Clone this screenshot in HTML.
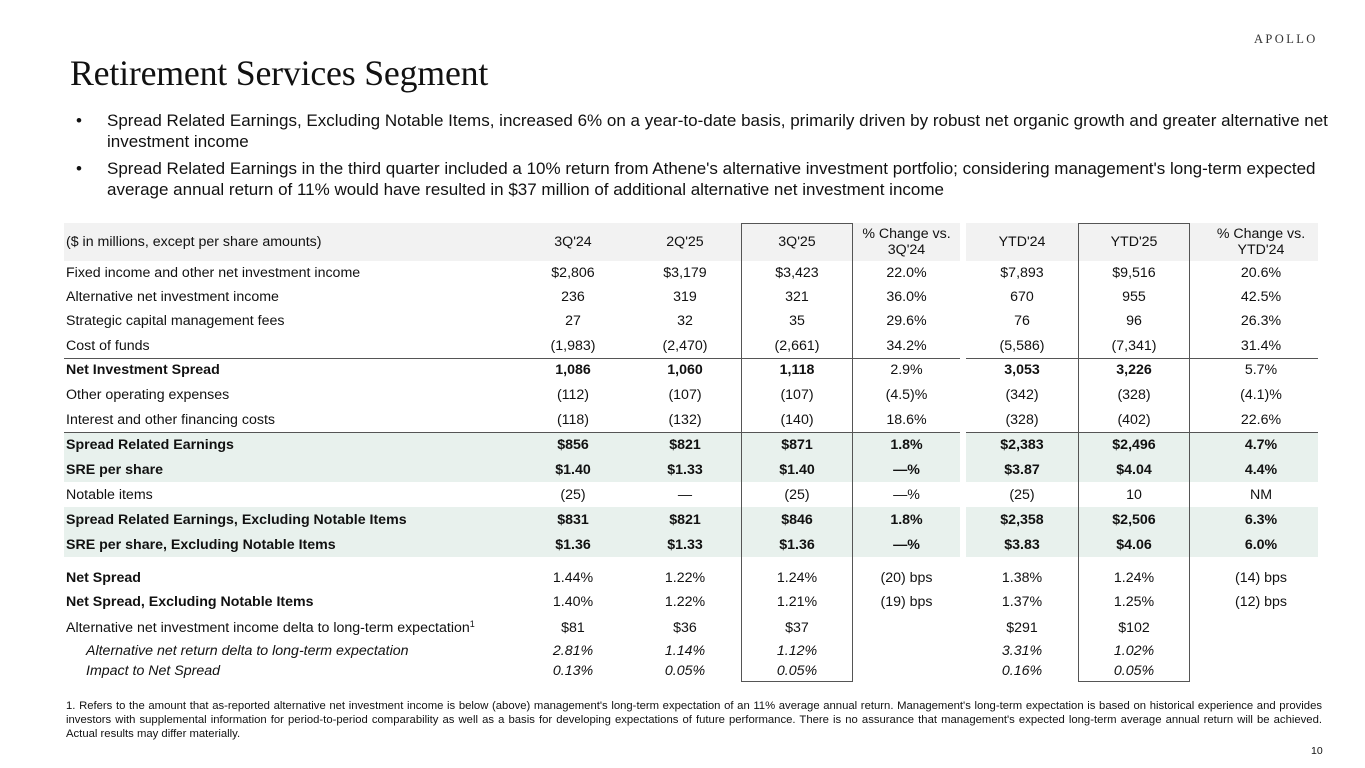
<!DOCTYPE html>
<html><head><meta charset="utf-8"><style>
*{margin:0;padding:0;box-sizing:border-box}
body{width:1365px;height:768px;background:#fff;position:relative;overflow:hidden;font-family:"Liberation Sans",Arial,sans-serif;color:#111}
.abs{position:absolute}
.title{left:70px;top:52px;font-family:"Liberation Serif",serif;font-size:35.8px;color:#111;letter-spacing:-0.2px}
.logo{left:1254px;top:32px;font-family:"Liberation Serif",serif;font-size:12.5px;letter-spacing:2.4px;color:#333}
.bul{left:76px;font-size:17px;line-height:21px;color:#111;width:1265px}
.bul span{position:absolute;left:0}
.bul div{margin-left:31px}
.r{position:absolute;left:0;width:1365px;font-size:14.2px}
.r div{position:absolute;top:0;height:100%;display:flex;align-items:center;justify-content:center;text-align:center}
.r .l{left:66px;justify-content:flex-start;width:470px;text-align:left}
.c1{left:517px;width:112px}.c2{left:629px;width:112px}.c3{left:741px;width:112px}.c4{left:853px;width:107px}
.c5{left:966px;width:112px}.c6{left:1078px;width:112px}.c7{left:1204px;width:114px}
.b{font-weight:bold}.i{font-style:italic}
.bgA{left:64px;width:896px}.bgB{left:966px;width:352px}
.foot{left:66px;top:699px;width:1256px;font-size:11.3px;line-height:14px;text-align:justify;color:#111}
</style></head><body>
<div class="abs logo">APOLLO</div>
<div class="abs title">Retirement Services Segment</div>
<div class="abs bul" style="top:110px"><span>•</span><div>Spread Related Earnings, Excluding Notable Items, increased 6% on a year-to-date basis, primarily driven by robust net organic growth and greater alternative net investment income</div></div>
<div class="abs bul" style="top:158px"><span>•</span><div>Spread Related Earnings in the third quarter included a 10% return from Athene's alternative investment portfolio; considering management's long-term expected average annual return of 11% would have resulted in $37 million of additional alternative net investment income</div></div>

<div class="abs bgA" style="top:223px;height:38px;background:#f2f2f2"></div>
<div class="abs bgB" style="top:223px;height:38px;background:#f2f2f2"></div>
<div class="abs bgA" style="top:432px;height:50px;background:#e8f1ed"></div>
<div class="abs bgB" style="top:432px;height:50px;background:#e8f1ed"></div>
<div class="abs bgA" style="top:507px;height:50px;background:#e8f1ed"></div>
<div class="abs bgB" style="top:507px;height:50px;background:#e8f1ed"></div>
<div class="abs bgA" style="top:358px;height:1px;background:#555"></div>
<div class="abs bgB" style="top:358px;height:1px;background:#555"></div>
<div class="abs bgA" style="top:432px;height:1px;background:#555"></div>
<div class="abs bgB" style="top:432px;height:1px;background:#555"></div>
<div class="abs" style="left:741px;top:223px;width:112px;height:459px;border:1px solid #555"></div>
<div class="abs" style="left:1078px;top:223px;width:112px;height:459px;border:1px solid #555"></div>

<div class="r" style="top:223px;height:38px"><div class="l">($ in millions, except per share amounts)</div><div class="c1">3Q'24</div><div class="c2">2Q'25</div><div class="c3">3Q'25</div><div class="c4">% Change vs.<br>3Q'24</div><div class="c5">YTD'24</div><div class="c6">YTD'25</div><div class="c7">% Change vs.<br>YTD'24</div></div>
<div class="r" style="top:261px;height:24px"><div class="l">Fixed income and other net investment income</div><div class="c1">$2,806</div><div class="c2">$3,179</div><div class="c3">$3,423</div><div class="c4">22.0%</div><div class="c5">$7,893</div><div class="c6">$9,516</div><div class="c7">20.6%</div></div>
<div class="r" style="top:285px;height:24px"><div class="l">Alternative net investment income</div><div class="c1">236</div><div class="c2">319</div><div class="c3">321</div><div class="c4">36.0%</div><div class="c5">670</div><div class="c6">955</div><div class="c7">42.5%</div></div>
<div class="r" style="top:309px;height:24px"><div class="l">Strategic capital management fees</div><div class="c1">27</div><div class="c2">32</div><div class="c3">35</div><div class="c4">29.6%</div><div class="c5">76</div><div class="c6">96</div><div class="c7">26.3%</div></div>
<div class="r" style="top:334px;height:24px"><div class="l">Cost of funds</div><div class="c1">(1,983)</div><div class="c2">(2,470)</div><div class="c3">(2,661)</div><div class="c4">34.2%</div><div class="c5">(5,586)</div><div class="c6">(7,341)</div><div class="c7">31.4%</div></div>
<div class="r b" style="top:358px;height:24px"><div class="l">Net Investment Spread</div><div class="c1">1,086</div><div class="c2">1,060</div><div class="c3">1,118</div><div class="c4" style="font-weight:normal">2.9%</div><div class="c5">3,053</div><div class="c6">3,226</div><div class="c7" style="font-weight:normal">5.7%</div></div>
<div class="r" style="top:382px;height:25px"><div class="l">Other operating expenses</div><div class="c1">(112)</div><div class="c2">(107)</div><div class="c3">(107)</div><div class="c4">(4.5)%</div><div class="c5">(342)</div><div class="c6">(328)</div><div class="c7">(4.1)%</div></div>
<div class="r" style="top:407px;height:25px"><div class="l">Interest and other financing costs</div><div class="c1">(118)</div><div class="c2">(132)</div><div class="c3">(140)</div><div class="c4">18.6%</div><div class="c5">(328)</div><div class="c6">(402)</div><div class="c7">22.6%</div></div>
<div class="r b" style="top:432px;height:25px"><div class="l">Spread Related Earnings</div><div class="c1">$856</div><div class="c2">$821</div><div class="c3">$871</div><div class="c4">1.8%</div><div class="c5">$2,383</div><div class="c6">$2,496</div><div class="c7">4.7%</div></div>
<div class="r b" style="top:457px;height:25px"><div class="l">SRE per share</div><div class="c1">$1.40</div><div class="c2">$1.33</div><div class="c3">$1.40</div><div class="c4">—%</div><div class="c5">$3.87</div><div class="c6">$4.04</div><div class="c7">4.4%</div></div>
<div class="r" style="top:482px;height:25px"><div class="l">Notable items</div><div class="c1">(25)</div><div class="c2">—</div><div class="c3">(25)</div><div class="c4">—%</div><div class="c5">(25)</div><div class="c6">10</div><div class="c7">NM</div></div>
<div class="r b" style="top:507px;height:25px"><div class="l">Spread Related Earnings, Excluding Notable Items</div><div class="c1">$831</div><div class="c2">$821</div><div class="c3">$846</div><div class="c4">1.8%</div><div class="c5">$2,358</div><div class="c6">$2,506</div><div class="c7">6.3%</div></div>
<div class="r b" style="top:532px;height:25px"><div class="l">SRE per share, Excluding Notable Items</div><div class="c1">$1.36</div><div class="c2">$1.33</div><div class="c3">$1.36</div><div class="c4">—%</div><div class="c5">$3.83</div><div class="c6">$4.06</div><div class="c7">6.0%</div></div>
<div class="r" style="top:566px;height:24px"><div class="l b">Net Spread</div><div class="c1">1.44%</div><div class="c2">1.22%</div><div class="c3">1.24%</div><div class="c4">(20) bps</div><div class="c5">1.38%</div><div class="c6">1.24%</div><div class="c7">(14) bps</div></div>
<div class="r" style="top:590px;height:24px"><div class="l b">Net Spread, Excluding Notable Items</div><div class="c1">1.40%</div><div class="c2">1.22%</div><div class="c3">1.21%</div><div class="c4">(19) bps</div><div class="c5">1.37%</div><div class="c6">1.25%</div><div class="c7">(12) bps</div></div>
<div class="r" style="top:616px;height:24px"><div class="l">Alternative net investment income delta to long-term expectation<sup style="font-size:9px;position:relative;top:-4px;vertical-align:baseline">1</sup></div><div class="c1">$81</div><div class="c2">$36</div><div class="c3">$37</div><div class="c5">$291</div><div class="c6">$102</div></div>
<div class="r i" style="top:641px;height:20px"><div class="l" style="left:86px">Alternative net return delta to long-term expectation</div><div class="c1">2.81%</div><div class="c2">1.14%</div><div class="c3">1.12%</div><div class="c5">3.31%</div><div class="c6">1.02%</div></div>
<div class="r i" style="top:661px;height:20px"><div class="l" style="left:86px">Impact to Net Spread</div><div class="c1">0.13%</div><div class="c2">0.05%</div><div class="c3">0.05%</div><div class="c5">0.16%</div><div class="c6">0.05%</div></div>

<div class="abs foot">1. Refers to the amount that as-reported alternative net investment income is below (above) management's long-term expectation of an 11% average annual return. Management's long-term expectation is based on historical experience and provides investors with supplemental information for period-to-period comparability as well as a basis for developing expectations of future performance. There is no assurance that management's expected long-term average annual return will be achieved. Actual results may differ materially.</div>
<div class="abs" style="left:1311px;top:745px;font-size:10.5px">10</div>
</body></html>
